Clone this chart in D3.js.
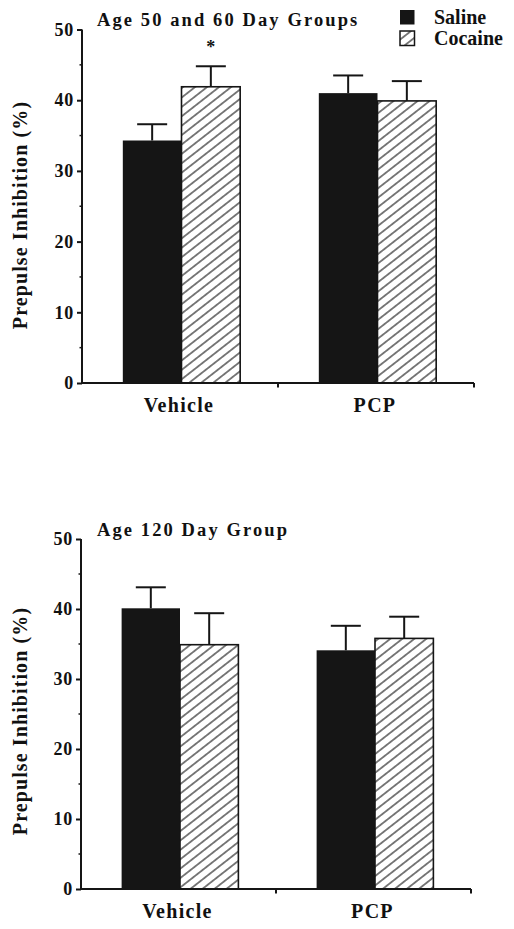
<!DOCTYPE html>
<html>
<head>
<meta charset="utf-8">
<script src="https://cdn.jsdelivr.net/npm/d3@7"></script>
<style>
  html, body { margin: 0; padding: 0; background: #fff; }
  svg { display: block; }
  svg text { font-family: "Liberation Serif", "Times New Roman", Tinos, "DejaVu Serif", serif !important; font-weight: bold; fill: #111; }
</style>
</head>
<body>
<svg id="chart" width="514" height="929"></svg>
<script>
// ---- Data ----
const groups = ["Vehicle", "PCP"];
const series = ["Saline", "Cocaine"];
const yTicks = [0, 10, 20, 30, 40, 50];

const panelTitles = ["Age 50 and 60 Day Groups", "Age 120 Day Group"];

// Panel 1: Age 50 and 60 day groups
const p1Saline = [34.3, 41.0];
const p1SalineErr = [2.3, 2.5];
const p1Cocaine = [41.9, 39.9];
const p1CocaineErr = [2.9, 2.8];
const p1Significant = [[0, "Cocaine"]];

// Panel 2: Age 120 day group
const p2Saline = [40.1, 34.1];
const p2SalineErr = [3.0, 3.5];
const p2Cocaine = [34.9, 35.8];
const p2CocaineErr = [4.5, 3.1];

const yLabel = "Prepulse Inhibition (%)";

// ---- Drawing ----
const svg = d3.select("#chart");
const ink = "#151515";
const serif = "'Liberation Serif', 'Times New Roman', Tinos, 'DejaVu Serif', serif";

const defs = svg.append("defs");
defs.append("pattern")
  .attr("id", "hatch")
  .attr("patternUnits", "userSpaceOnUse")
  .attr("width", 20).attr("height", 7.4)
  .attr("patternTransform", "rotate(-38)")
  .append("line")
  .attr("x1", -2).attr("x2", 22)
  .attr("y1", 3.7).attr("y2", 3.7)
  .attr("stroke", ink).attr("stroke-width", 1.1);

function buildRows(saline, salineErr, cocaine, cocaineErr) {
  const rows = [];
  groups.forEach((g, i) => {
    rows.push({ group: g, series: "Saline", value: saline[i], err: salineErr[i] });
    rows.push({ group: g, series: "Cocaine", value: cocaine[i], err: cocaineErr[i] });
  });
  return rows;
}

function drawPanel(opts) {
  const { x0Range, yRange, title, rows, sig, labelCenterY } = opts;
  const g = svg.append("g").attr("font-family", serif);

  const x0 = d3.scaleBand().domain(groups).range(x0Range).paddingInner(0).paddingOuter(0);
  const x1 = d3.scaleBand().domain(series).range([0, x0.bandwidth()]).paddingInner(0).paddingOuter(0.67);
  const y = d3.scaleLinear().domain([0, 50]).range(yRange);

  // bars
  g.selectAll("rect.bar").data(rows).join("rect")
    .attr("class", "bar")
    .attr("x", d => x0(d.group) + x1(d.series) + 1.5)
    .attr("y", d => y(d.value))
    .attr("width", x1.bandwidth())
    .attr("height", d => y(0) - y(d.value))
    .attr("fill", d => d.series === "Saline" ? ink : "url(#hatch)")
    .attr("stroke", ink)
    .attr("stroke-width", d => d.series === "Saline" ? 0 : 1.6);

  // error bars
  const cx = d => x0(d.group) + x1(d.series) + 1.5 + x1.bandwidth() / 2;
  g.selectAll("line.stem").data(rows).join("line")
    .attr("x1", cx).attr("x2", cx)
    .attr("y1", d => y(d.value)).attr("y2", d => y(d.value + d.err))
    .attr("stroke", ink).attr("stroke-width", 2);
  g.selectAll("line.cap").data(rows).join("line")
    .attr("x1", d => cx(d) - 15).attr("x2", d => cx(d) + 15)
    .attr("y1", d => y(d.value + d.err)).attr("y2", d => y(d.value + d.err))
    .attr("stroke", ink).attr("stroke-width", 2);

  // significance markers
  sig.forEach(([gi, s]) => {
    const d = rows.find(r => r.group === groups[gi] && r.series === s);
    g.append("text")
      .attr("x", cx(d)).attr("y", y(d.value + d.err) - 13)
      .attr("text-anchor", "middle")
      .style("font-size", "18px")
      .text("*");
  });

  // y axis
  const yAxis = d3.axisLeft(y).tickValues(yTicks).tickSize(5).tickPadding(3).tickFormat(d3.format("d"));
  const ya = g.append("g").attr("transform", `translate(${x0Range[0]},0)`).call(yAxis)
    .attr("font-family", serif);
  ya.select(".domain").attr("stroke", ink).attr("stroke-width", 2).attr("d", `M0,${yRange[0]}V${yRange[1]}`);
  ya.selectAll(".tick line").attr("stroke", ink).attr("stroke-width", 2);
  ya.selectAll(".tick text")
    .style("font-weight", "bold")
    .style("font-size", "18px")
    .style("letter-spacing", "0.8px")
    .attr("fill", ink);
  // minor ticks
  const minor = d3.range(5, 50, 10);
  ya.selectAll("line.minor").data(minor).join("line")
    .attr("x1", -2.5).attr("x2", 0)
    .attr("y1", d => y(d)).attr("y2", d => y(d))
    .attr("stroke", ink).attr("stroke-width", 1.5);

  // x axis
  const xa = g.append("g").attr("transform", `translate(0,${yRange[0]})`);
  xa.append("line")
    .attr("x1", x0Range[0]).attr("x2", x0Range[1])
    .attr("y1", 0).attr("y2", 0)
    .attr("stroke", ink).attr("stroke-width", 2);
  const xTickPos = groups.map(gname => x0(gname) + x0.bandwidth());
  xa.selectAll("line.xt").data(xTickPos).join("line")
    .attr("x1", d => d).attr("x2", d => d)
    .attr("y1", 0).attr("y2", 4.5)
    .attr("stroke", ink).attr("stroke-width", 2);
  xa.selectAll("text.xl").data(groups).join("text")
    .attr("x", d => x0(d) + x0.bandwidth() / 2 - 1)
    .attr("y", 29)
    .attr("text-anchor", "middle")
    .style("font-size", "20px")
    .style("letter-spacing", "1.3px")
    .text(d => d);

  // title
  g.append("text")
    .attr("x", 97).attr("y", yRange[1] - 3.5)
    .style("font-size", "18.5px")
    .style("letter-spacing", "2.1px")
    .text(title);

  // y label
  g.append("text")
    .attr("transform", `translate(27,${labelCenterY}) rotate(-90)`)
    .attr("text-anchor", "middle")
    .style("font-size", "20px")
    .style("letter-spacing", "1.1px")
    .text(yLabel);
}

drawPanel({
  x0Range: [82, 474], yRange: [383, 29.5], title: panelTitles[0],
  rows: buildRows(p1Saline, p1SalineErr, p1Cocaine, p1CocaineErr),
  sig: p1Significant, labelCenterY: 215
});
drawPanel({
  x0Range: [81, 471], yRange: [889, 539], title: panelTitles[1],
  rows: buildRows(p2Saline, p2SalineErr, p2Cocaine, p2CocaineErr),
  sig: [], labelCenterY: 721
});

// legend
const legend = svg.append("g").attr("font-family", serif);
series.forEach((s, i) => {
  const yy = 10 + i * 21;
  legend.append("rect")
    .attr("x", 400).attr("y", yy)
    .attr("width", 14.5).attr("height", 14.5)
    .attr("fill", s === "Saline" ? ink : "url(#hatch)")
    .attr("stroke", ink).attr("stroke-width", s === "Saline" ? 0 : 1.5);
  legend.append("text")
    .attr("x", 434).attr("y", yy + 13.8)
    .style("font-size", "20px")
    .text(s);
});
</script>
</body>
</html>
